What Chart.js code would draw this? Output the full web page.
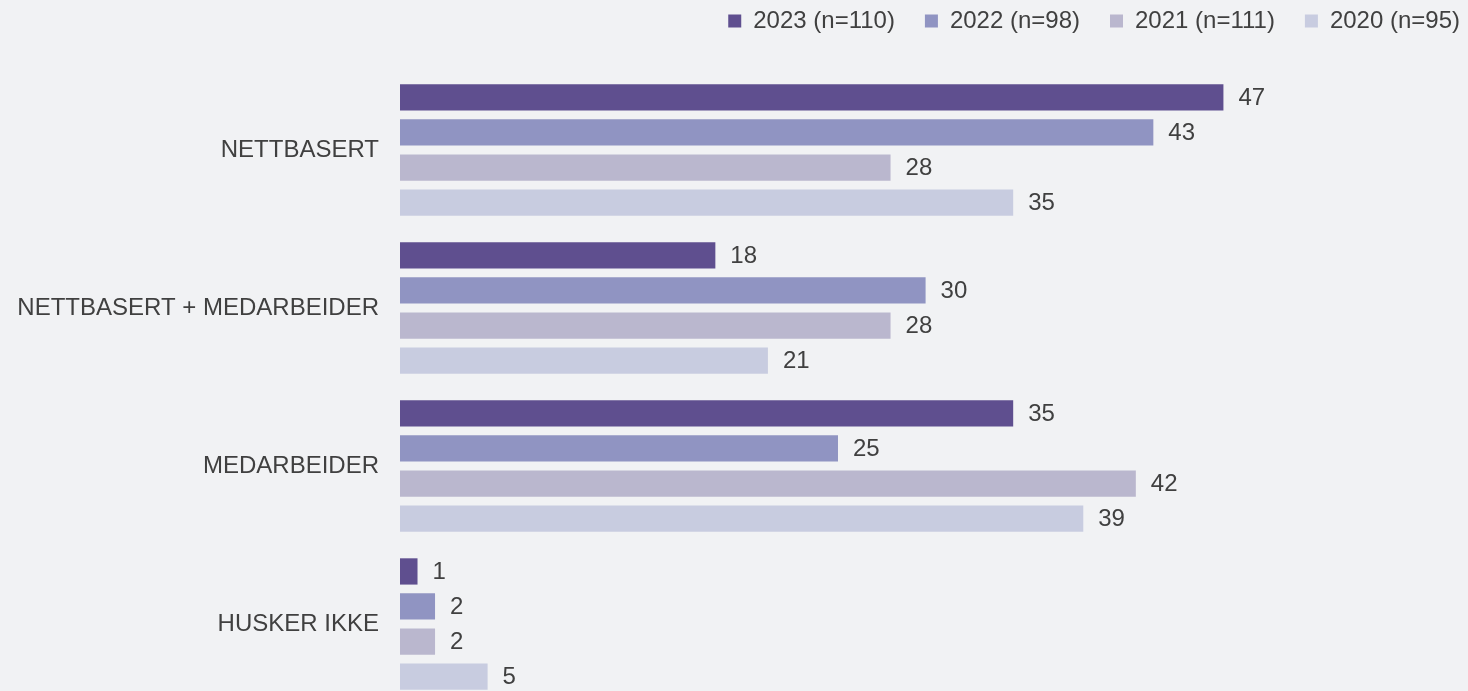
<!DOCTYPE html>
<html>
<head>
<meta charset="utf-8">
<script src="https://cdn.jsdelivr.net/npm/chart.js@4"></script>
<style>
html,body{margin:0;padding:0;background:#f1f2f4;overflow:hidden;width:1468px;height:691px;}
#wrap{position:absolute;left:0;top:0;width:1468px;height:703px;}
</style>
</head>
<body>
<div id="wrap"><canvas id="c"></canvas></div>
<script>
const categories = ['NETTBASERT', 'NETTBASERT + MEDARBEIDER', 'MEDARBEIDER', 'HUSKER IKKE'];
const seriesNames = ['2023 (n=110)', '2022 (n=98)', '2021 (n=111)', '2020 (n=95)'];
const values2023 = [47, 18, 35, 1];
const values2022 = [43, 30, 25, 2];
const values2021 = [28, 28, 42, 2];
const values2020 = [35, 21, 39, 5];
const seriesColors = ['#5f4f8f', '#9094c2', '#bab7ce', '#c8cce0'];

const FONT = '"Liberation Sans", Arial, sans-serif';
const TEXT = '#404040';

const valueLabels = {
  id: 'valueLabels',
  afterDatasetsDraw(chart) {
    const ctx = chart.ctx;
    ctx.save();
    ctx.font = '24px ' + FONT;
    ctx.fillStyle = TEXT;
    ctx.textAlign = 'left';
    ctx.textBaseline = 'middle';
    chart.data.datasets.forEach((ds, i) => {
      const meta = chart.getDatasetMeta(i);
      meta.data.forEach((bar, j) => {
        ctx.fillText(String(ds.data[j]), bar.x + 15, bar.y + 1);
      });
    });
    ctx.restore();
  }
};

const allSeries = [values2023, values2022, values2021, values2020];

new Chart(document.getElementById('c'), {
  type: 'bar',
  data: {
    labels: categories,
    datasets: allSeries.map((vals, i) => ({
      label: seriesNames[i],
      data: vals,
      backgroundColor: seriesColors[i],
      borderWidth: 0,
      categoryPercentage: 0.887,
      barPercentage: 0.75
    }))
  },
  options: {
    indexAxis: 'y',
    responsive: true,
    maintainAspectRatio: false,
    animation: false,
    layout: { padding: { top: -21, right: -22, bottom: 0, left: 0 } },
    plugins: {
      tooltip: { enabled: false },
      legend: {
        position: 'top',
        align: 'end',
        labels: {
          boxWidth: 13,
          boxHeight: 13,
          padding: 30,
          color: TEXT,
          font: { size: 24, family: FONT }
        }
      }
    },
    scales: {
      x: {
        position: 'top',
        display: true,
        min: 0,
        max: 60.96,
        grid: { display: false, drawTicks: false },
        border: { display: false },
        ticks: { display: false },
        afterFit(scale) { scale.height = 28; }
      },
      y: {
        grid: { display: false, drawTicks: false },
        border: { display: false },
        ticks: {
          color: TEXT,
          padding: 21,
          font: { size: 24, family: FONT }
        },
        afterFit(scale) {
          scale.width = 400;
          scale.paddingTop = 0;
          scale.paddingBottom = 0;
        }
      }
    }
  },
  plugins: [valueLabels]
});
</script>
</body>
</html>
